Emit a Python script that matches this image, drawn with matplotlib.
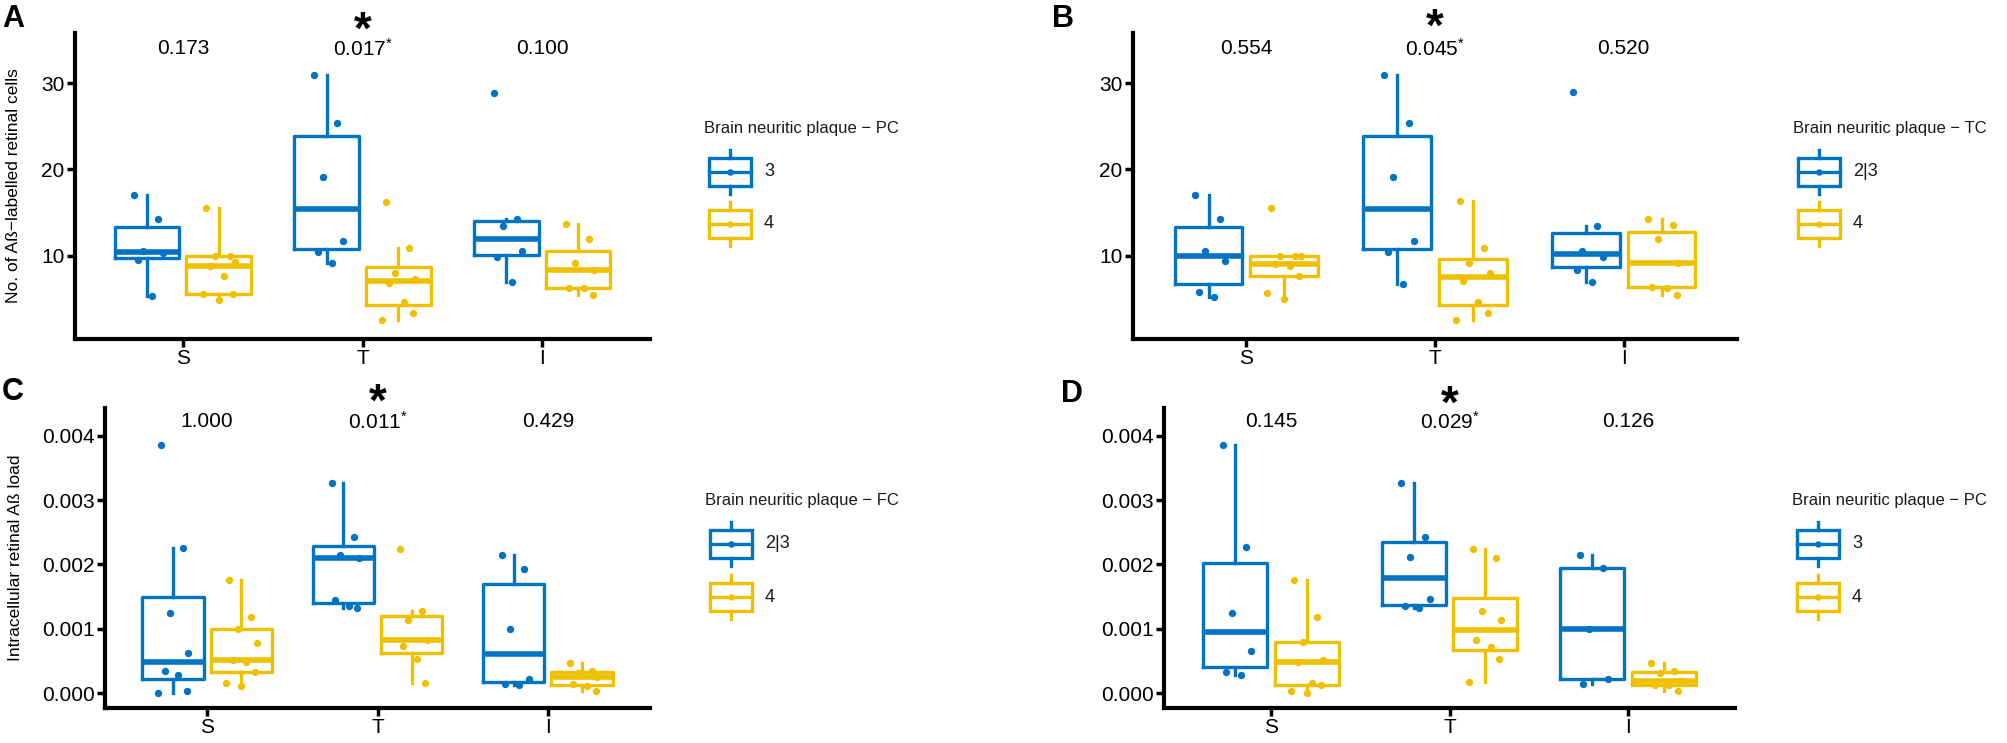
import matplotlib
matplotlib.use("Agg")
import matplotlib.pyplot as plt
from matplotlib import transforms
from matplotlib.patches import Rectangle
from matplotlib.ticker import FormatStrFormatter

plt.rcParams['font.family'] = ['Liberation Sans', 'DejaVu Sans']
plt.rcParams['mathtext.fontset'] = 'custom'
plt.rcParams['mathtext.rm'] = 'Liberation Sans'

regions = ['S', 'T', 'I']
blue = '#0073C2'
yellow = '#EFC000'

# A: labelled cells, grouped by brain neuritic plaque - PC (3 / 4)
a_blue = [[17.0, 14.2, 10.5, 10.3, 9.5, 5.3],
          [30.9, 25.4, 19.15, 11.7, 10.4, 9.1],
          [28.9, 14.2, 13.4, 10.5, 9.9, 7.0]]
a_yellow = [[15.5, 10.0, 10.0, 9.3, 8.85, 7.65, 5.6, 5.6, 4.9],
            [16.2, 10.9, 8.0, 7.3, 6.8, 4.6, 3.4, 2.5],
            [13.7, 11.9, 9.2, 8.4, 6.3, 6.3, 5.4]]
a_p = ['0.173', '0.017*', '0.100']

# B: labelled cells, grouped by TC (2|3 / 4)
b_blue = [[17.0, 14.2, 10.5, 9.4, 5.8, 5.25],
          [30.9, 25.4, 19.15, 11.7, 10.4, 6.7],
          [29.0, 13.4, 10.5, 9.8, 8.3, 7.0]]
b_yellow = [[15.5, 10.0, 10.0, 10.0, 9.0, 8.8, 7.7, 5.7, 5.0],
            [16.3, 10.9, 9.2, 8.0, 7.1, 4.6, 3.4, 2.5],
            [14.2, 13.6, 11.9, 9.1, 6.4, 6.3, 5.5]]
b_p = ['0.554', '0.045*', '0.520']

# C: intracellular load, grouped by FC (2|3 / 4)
c_blue = [[0.00385, 0.002255, 0.001244, 0.00063, 0.00034, 0.00028, 0.00004, 0.0],
          [0.00326, 0.00243, 0.00215, 0.00210, 0.00145, 0.00135, 0.00132],
          [0.00214, 0.00193, 0.00100, 0.00022, 0.00015, 0.00012]]
c_yellow = [[0.00176, 0.00118, 0.00100, 0.00078, 0.00052, 0.00048, 0.00033, 0.000155, 0.000105],
            [0.00224, 0.00127, 0.00113, 0.00082, 0.00073, 0.00053, 0.00016],
            [0.00047, 0.00034, 0.00031, 0.00025, 0.00015, 0.00011, 0.00004]]
c_p = ['1.000', '0.011*', '0.429']

# D: intracellular load, grouped by PC (3 / 4)
d_blue = [[0.00386, 0.00227, 0.00125, 0.00065, 0.000336, 0.00028],
          [0.00326, 0.00243, 0.002115, 0.00146, 0.00135, 0.00133],
          [0.00214, 0.00195, 0.00100, 0.00022, 0.00015]]
d_yellow = [[0.00176, 0.00118, 0.00079, 0.00051, 0.00048, 0.00016, 0.00012, 0.00004, 0.0],
            [0.00224, 0.00210, 0.00127, 0.00113, 0.00082, 0.00072, 0.00053, 0.00017],
            [0.00047, 0.00035, 0.00031, 0.00019, 0.00013, 0.00012, 0.00004]]
d_p = ['0.145', '0.029*', '0.126']

jit = [-0.07, 0.06, -0.02, 0.09, -0.05, 0.03, 0.08, -0.09, 0.0]

W, H = 2007, 743
fig = plt.figure(figsize=(W / 100, H / 100), dpi=100)


def px_axes(x0, x1, y0, y1):
    return fig.add_axes([x0 / W, 1 - y1 / H, (x1 - x0) / W, (y1 - y0) / H])


def panel(ax, blues, yellows, pvals, ylim, yticks, ptext_y, fmt=None):
    for k in range(3):
        for vals, col, off in ((blues[k], blue, -0.2), (yellows[k], yellow, 0.2)):
            pos = k + 1 + off
            ax.boxplot(vals, positions=[pos], widths=0.36, whis=1.5,
                       showfliers=False, showcaps=False, manage_ticks=False,
                       boxprops=dict(color=col, lw=2.4),
                       whiskerprops=dict(color=col, lw=2.4),
                       medianprops=dict(color=col, lw=4.0, solid_capstyle='butt'))
            xs = [pos + jit[i % len(jit)] for i in range(len(vals))]
            ax.scatter(xs, vals, s=28, color=col, lw=0, zorder=3, clip_on=False)
        txt = pvals[k]
        if txt.endswith('*'):
            txt = r'$\mathregular{' + txt[:-1] + r'^{*}}$'
        ax.text(k + 1, ptext_y, txt, ha='center', va='center', fontsize=15)
    ax.set_xlim(0.4, 3.6)
    ax.set_ylim(*ylim)
    ax.set_xticks([1, 2, 3])
    ax.set_xticklabels(regions)
    ax.set_yticks(yticks)
    if fmt:
        ax.yaxis.set_major_formatter(FormatStrFormatter(fmt))
    for s in ['top', 'right']:
        ax.spines[s].set_visible(False)
    for s in ['left', 'bottom']:
        ax.spines[s].set_linewidth(3)
    ax.tick_params(width=2.5, length=5.5, labelsize=15, pad=2, colors='black')
    # x in data, y in figure fraction for the star above the T group
    return transforms.blended_transform_factory(ax.transData, fig.transFigure)


axA = px_axes(75, 650, 33, 339)
axB = px_axes(1133, 1737, 33, 339)
axC = px_axes(105, 650, 408, 708)
axD = px_axes(1164, 1735, 408, 708)

trA = panel(axA, a_blue, a_yellow, a_p, (0.35, 35.8), [10, 20, 30], 33.95)
trB = panel(axB, b_blue, b_yellow, b_p, (0.35, 35.8), [10, 20, 30], 33.95)
trC = panel(axC, c_blue, c_yellow, c_p, (-0.00023, 0.00443),
            [0, 0.001, 0.002, 0.003, 0.004], 0.00422, '%.3f')
trD = panel(axD, d_blue, d_yellow, d_p, (-0.00023, 0.00443),
            [0, 0.001, 0.002, 0.003, 0.004], 0.00422, '%.3f')

axA.set_ylabel('No. of Aß\u2212labelled retinal cells', fontsize=12.5, va='center')
axA.yaxis.set_label_coords((14 - 75) / 575, 0.5)
axC.set_ylabel('Intracellular retinal Aß load', fontsize=12.5, va='center')
axC.yaxis.set_label_coords((16 - 105) / 545, 0.5)

for tr, ystar in ((trA, 44), (trB, 41), (trC, 416), (trD, 418)):
    fig.text(2, 1 - ystar / H, '*', transform=tr, ha='center', va='baseline',
             fontsize=33, fontweight='bold')

# overlay in pixel coordinates for letters and legends
ov = fig.add_axes([0, 0, 1, 1])
ov.set_xlim(0, W)
ov.set_ylim(H, 0)
ov.axis('off')
ov.patch.set_visible(False)

for letter, x, y in (('A', 2, 27), ('B', 1052, 27), ('C', 2, 400), ('D', 1061, 402)):
    ov.text(x, y, letter, fontsize=22, fontweight='bold', ha='left', va='baseline')


def legend(title, labels, x0, ytitle, ykeys):
    ov.text(x0 - 5, ytitle, title, fontsize=12, color='#1a1a1a', ha='left', va='center')
    for lab, yk, col in zip(labels, ykeys, (blue, yellow)):
        ov.add_patch(Rectangle((x0, yk - 14), 42, 28, fill=False, ec=col, lw=2.4))
        ov.plot([x0 + 21, x0 + 21], [yk - 22, yk - 14], color=col, lw=2.4)
        ov.plot([x0 + 21, x0 + 21], [yk + 14, yk + 22], color=col, lw=2.4)
        ov.plot([x0, x0 + 42], [yk, yk], color=col, lw=2.4)
        ov.scatter([x0 + 21], [yk], s=22, color=col, lw=0, zorder=3)
        ov.text(x0 + 55, yk, lab, fontsize=13, color='#1a1a1a', ha='left', va='center')


legend('Brain neuritic plaque \u2212 PC', ['3', '4'], 709, 128, [172, 224])
legend('Brain neuritic plaque \u2212 TC', ['2|3', '4'], 1798, 128, [172, 224])
legend('Brain neuritic plaque \u2212 FC', ['2|3', '4'], 710, 501, [544, 597])
legend('Brain neuritic plaque \u2212 PC', ['3', '4'], 1797, 501, [544, 597])

fig.savefig('out.png', dpi=100)
